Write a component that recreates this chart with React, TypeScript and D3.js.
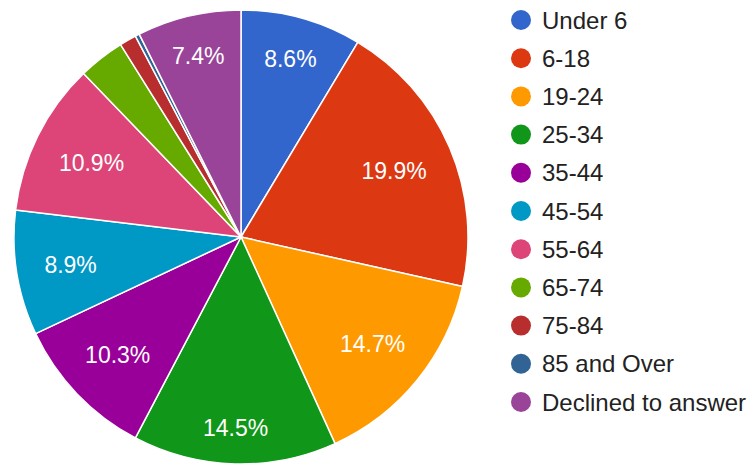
import React, { useMemo } from "react";
import * as d3 from "d3";

const categories = [
  "Under 6", "6-18", "19-24", "25-34", "35-44", "45-54",
  "55-64", "65-74", "75-84", "85 and Over", "Declined to answer",
];
const percents = [8.6, 19.9, 14.7, 14.5, 10.3, 8.9, 10.9, 3.3, 1.2, 0.3, 7.4];
const colors = [
  "#3366cc", "#dc3912", "#ff9900", "#109618", "#990099", "#0099c6",
  "#dd4477", "#66aa00", "#b82e2e", "#316395", "#994499",
];

const W = 751;
const H = 464;
const FONT = "Arial, 'Liberation Sans', sans-serif";
const LABEL_FS = 23;
const LEGEND_FS = 24;

function textWidth(s: string, fs: number): number {
  if (typeof document === "undefined") return s.length * fs * 0.55;
  const c = document.createElement("canvas");
  const ctx = c.getContext("2d");
  if (!ctx) return s.length * fs * 0.55;
  ctx.font = `${fs}px Arial, "Liberation Sans", sans-serif`;
  return ctx.measureText(s).width;
}

export default function App() {
  const cx = 241;
  const cy = 237;
  const r = 227;

  const arcs = useMemo(
    () =>
      d3
        .pie<number>()
        .sort(null)
        .value((d) => d)(percents),
    []
  );
  const arcGen = d3.arc<d3.PieArcDatum<number>>().innerRadius(0).outerRadius(r);

  const legendY = d3
    .scalePoint<string>()
    .domain(categories)
    .range([20, 402]);

  return (
    <svg
      width={W}
      height={H}
      style={{ position: "absolute", left: 0, top: 0, background: "#fff" }}
      fontFamily={FONT}
    >
      <g transform={`translate(${cx},${cy})`}>
        {arcs.map((a, i) => (
          <path
            key={i}
            d={arcGen(a) || ""}
            fill={colors[i]}
            stroke="#fff"
            strokeWidth={1.5}
            strokeLinejoin="round"
          />
        ))}
        {arcs.map((a, i) => {
          if (a.data < 5) return null;
          const label = `${a.data.toFixed(1)}%`;
          const mid = (a.startAngle + a.endAngle) / 2;
          const s = Math.sin(mid);
          const c = -Math.cos(mid);
          const hw = textWidth(label, LABEL_FS) / 2;
          const hh = 8;
          const d = 0.88 * r - (Math.abs(s) * hw + Math.abs(c) * hh);
          return (
            <text
              key={`l${i}`}
              x={s * d}
              y={c * d}
              fill="#fff"
              fontSize={LABEL_FS}
              textAnchor="middle"
              dominantBaseline="central"
            >
              {label}
            </text>
          );
        })}
      </g>
      <g>
        {categories.map((cat, i) => (
          <g key={cat} transform={`translate(521,${legendY(cat)})`}>
            <circle r={10} fill={colors[i]} />
            <text
              x={21}
              y={0}
              fontSize={LEGEND_FS}
              fill="#222"
              dominantBaseline="central"
            >
              {cat}
            </text>
          </g>
        ))}
      </g>
    </svg>
  );
}
